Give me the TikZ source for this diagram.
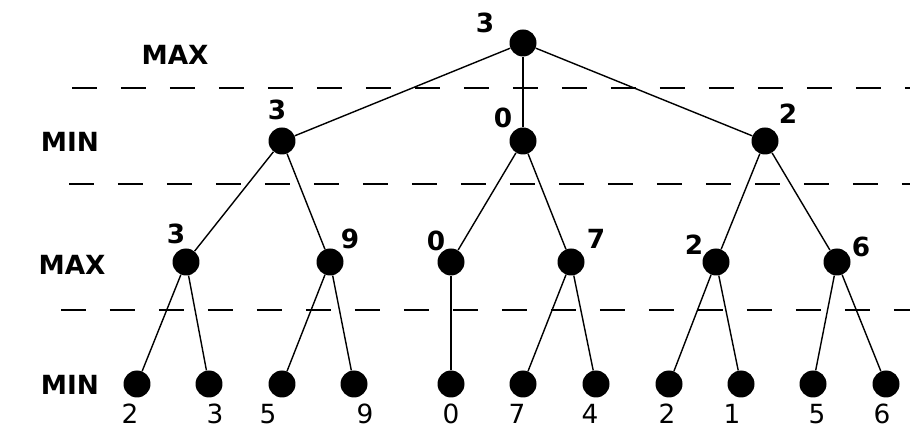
\documentclass[tikz,border=0pt]{standalone}
\usepackage{fontspec}
\setmainfont{DejaVu Sans}
\usetikzlibrary{positioning}
\begin{document}
\begin{tikzpicture}[x=0.02cm, y=-0.02cm,
    state/.style={circle, fill=black, minimum size=0.54cm, inner sep=0pt},
    val/.style={font=\fontsize{15}{15}\selectfont\bfseries, inner sep=0pt},
    leafval/.style={font=\fontsize{15}{15}\selectfont, inner sep=0pt},
    layer/.style={font=\fontsize{15}{15}\selectfont\bfseries, inner sep=0pt},
    sep/.style={dash pattern=on 0.5cm off 0.48cm, line width=0.9pt},
    branch/.style={line width=0.8pt},
]
\useasboundingbox (0,0) rectangle (910,428);

% Level names
\node[layer] (lmax0) at (175, 55) {MAX};
\node[layer] (lmin1) at (70, 142) {MIN};
\node[layer] (lmax2) at (72, 265) {MAX};
\node[layer] (lmin3) at (70, 385) {MIN};

% Separators
\draw[sep] (72, 88) -- (910, 88);
\draw[sep] (69, 184) -- (910, 184);
\draw[sep] (61, 310) -- (910, 310);

% Root
\node[state] (r) at (523, 43) {};

% MIN level
\node[state] (a) at (282, 141) {};
\node[state] (b) at (523, 141) {};
\node[state] (c) at (765, 141) {};

% MAX level
\node[state] (a1) at (186, 262) {};
\node[state] (a2) at (330, 262) {};
\node[state] (b1) at (451, 262) {};
\node[state] (b2) at (571, 262) {};
\node[state] (c1) at (716, 262) {};
\node[state] (c2) at (837, 262) {};

% Leaves
\node[state] (a11) at (137, 384) {};
\node[state] (a12) at (209, 384) {};
\node[state] (a21) at (282, 384) {};
\node[state] (a22) at (354, 384) {};
\node[state] (b11) at (451, 384) {};
\node[state] (b21) at (523, 384) {};
\node[state] (b22) at (596, 384) {};
\node[state] (c11) at (669, 384) {};
\node[state] (c12) at (741, 384) {};
\node[state] (c21) at (813, 384) {};
\node[state] (c22) at (886, 384) {};

% Branches
\draw[branch] (r) -- (a);
\draw[branch] (r) -- (b);
\draw[branch] (r) -- (c);
\draw[branch] (a) -- (a1);
\draw[branch] (a) -- (a2);
\draw[branch] (b) -- (b1);
\draw[branch] (b) -- (b2);
\draw[branch] (c) -- (c1);
\draw[branch] (c) -- (c2);
\draw[branch] (a1) -- (a11);
\draw[branch] (a1) -- (a12);
\draw[branch] (a2) -- (a21);
\draw[branch] (a2) -- (a22);
\draw[branch] (b1) -- (b11);
\draw[branch] (b2) -- (b21);
\draw[branch] (b2) -- (b22);
\draw[branch] (c1) -- (c11);
\draw[branch] (c1) -- (c12);
\draw[branch] (c2) -- (c21);
\draw[branch] (c2) -- (c22);

% Backed-up values
\node[val] (vr) at (485, 23) {3};
\node[val] (va) at (277, 110) {3};
\node[val] (vb) at (503, 118) {0};
\node[val] (vc) at (788, 114) {2};
\node[val] (va1) at (176, 234) {3};
\node[val] (va2) at (350, 239) {9};
\node[val] (vb1) at (436, 241) {0};
\node[val] (vb2) at (596, 239) {7};
\node[val] (vc1) at (694, 245) {2};
\node[val] (vc2) at (861, 247) {6};

% Leaf values
\node[leafval] (va11) at (130, 414) {2};
\node[leafval] (va12) at (215, 414) {3};
\node[leafval] (va21) at (268, 414) {5};
\node[leafval] (va22) at (365, 414) {9};
\node[leafval] (vb11) at (451, 414) {0};
\node[leafval] (vb21) at (517, 414) {7};
\node[leafval] (vb22) at (590, 414) {4};
\node[leafval] (vc11) at (667, 414) {2};
\node[leafval] (vc12) at (732, 414) {1};
\node[leafval] (vc21) at (817, 414) {5};
\node[leafval] (vc22) at (882, 414) {6};
\end{tikzpicture}
\end{document}
